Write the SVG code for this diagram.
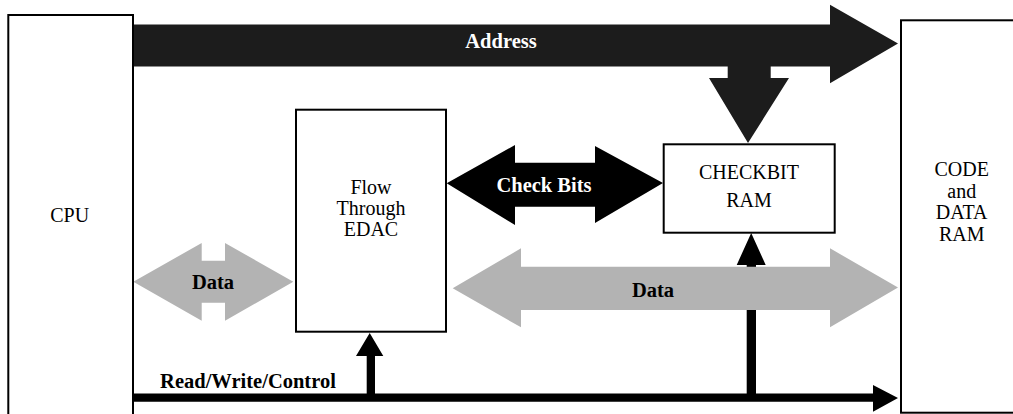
<svg xmlns="http://www.w3.org/2000/svg" width="1013" height="414" viewBox="0 0 1013 414">
<style>
.box{fill:#fff;stroke:#000;stroke-width:2}
text{font-family:'Liberation Serif','Times New Roman',Times,serif}
.lbl{font-size:20px;fill:#000;text-anchor:middle}
.bl{font-size:20.5px;font-weight:bold;text-anchor:middle}
.w{fill:#fff}
.k{fill:#000}
.gray{fill:#b3b3b3}
.dark{fill:#1c1c1c}
</style>
<rect width="1013" height="414" fill="#fff"/>
<g id="connectors">
  <polygon class="dark" points="133,24.5 830,24.5 830,4.7 898,43.5 830,83.3 830,66.5 770.7,66.5 770.7,78 789,78 748,143 709,78 727.7,78 727.7,66.5 133,66.5"/>
  <polygon class="k" points="133,393.5 873,393.5 873,385 898,398 873,411.7 873,401.7 133,401.7"/>
  <polygon class="k" points="366.7,397 366.7,356 356,356 369.7,333 383.3,356 375,356 375,397"/>
  <polygon class="k" points="746.7,397 746.7,265 736.7,265 751.2,233 765.7,265 756,265 756,397"/>
  <polygon class="k" points="446.7,183.3 515,145 515,162.7 595,162.7 595,146 663,183 595,223 595,206.7 515,206.7 515,225"/>
  <polygon class="gray" points="133.3,281.7 201.7,243 201.7,260.7 225,260.7 225,243 293.3,281.7 225,320.7 225,302.7 201.7,302.7 201.7,320.7"/>
  <polygon class="gray" points="452.7,288.3 521,248.3 521,266.7 830,266.7 830,248.3 898,287.5 830,327.3 830,310 521,310 521,327.3"/>
  <text class="bl w" x="501" y="47.5">Address</text>
  <text class="bl w" x="544" y="191.5">Check Bits</text>
  <text class="bl" x="213" y="288.5">Data</text>
  <text class="bl" x="653" y="297">Data</text>
  <text class="bl" x="248" y="388" font-size="21">Read/Write/Control</text>
</g>
<g id="cpu">
  <rect class="box" x="8.3" y="15" width="124.7" height="420"/>
  <text class="lbl" x="69.7" y="221.7" font-size="21">CPU</text>
</g>
<g id="edac">
  <rect class="box" x="296" y="109.7" width="150" height="222"/>
  <text class="lbl" x="371" y="194">Flow</text>
  <text class="lbl" x="371" y="215">Through</text>
  <text class="lbl" x="371" y="236">EDAC</text>
</g>
<g id="checkbit">
  <rect class="box" x="663.7" y="144.3" width="171" height="88.4"/>
  <text class="lbl" x="749" y="179">CHECKBIT</text>
  <text class="lbl" x="749" y="207">RAM</text>
</g>
<g id="coderam">
  <rect class="box" x="901" y="20.3" width="130" height="392.4"/>
  <text class="lbl" x="961.7" y="176">CODE</text>
  <text class="lbl" x="961.7" y="197.5">and</text>
  <text class="lbl" x="961.7" y="219">DATA</text>
  <text class="lbl" x="961.7" y="240.5">RAM</text>
</g>
</svg>
